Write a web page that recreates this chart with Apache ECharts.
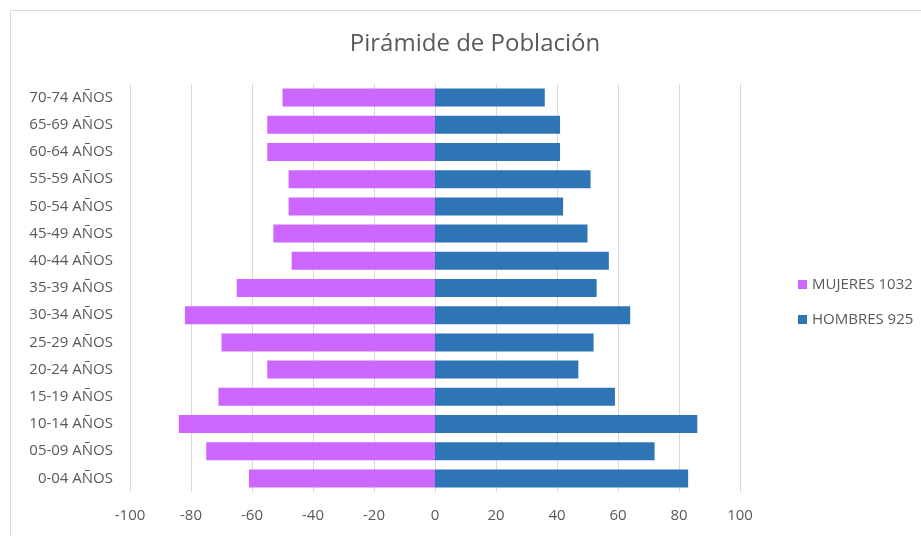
<!DOCTYPE html>
<html><head><meta charset="utf-8">
<script src="https://cdn.jsdelivr.net/npm/echarts@6/dist/echarts.min.js"></script>
<style>html,body{margin:0;padding:0;background:#fff}#c{width:921px;height:536px}</style>
</head><body><div id="c"></div>
<script>
const categories = ['0-04 AÑOS','05-09 AÑOS','10-14 AÑOS','15-19 AÑOS','20-24 AÑOS','25-29 AÑOS','30-34 AÑOS','35-39 AÑOS','40-44 AÑOS','45-49 AÑOS','50-54 AÑOS','55-59 AÑOS','60-64 AÑOS','65-69 AÑOS','70-74 AÑOS'];
const mujeres = [-61,-75,-84,-71,-55,-70,-82,-65,-47,-53,-48,-48,-55,-55,-50];
const hombres = [83,72,86,59,47,52,64,53,57,50,42,51,41,41,36];
const seriesNames = ['MUJERES 1032','HOMBRES 925'];
const xTicks = {min:-100, max:100, interval:20};

const font = '"Open Sans", "Noto Sans", sans-serif';
const chart = echarts.init(document.getElementById('c'));
chart.setOption({
  animation:false,
  backgroundColor:'#fff',
  graphic:[{type:'rect', left:8, top:8, shape:{width:1000,height:1000}, style:{fill:'none', stroke:'#d9d9d9', lineWidth:1}, silent:true}],
  title:{text:'Pirámide de Población', left:470, textAlign:'center', top:27, textStyle:{fontFamily:font, fontSize:24, fontWeight:'normal', color:'#595959'}},
  legend:{orient:'vertical', left:793, top:272, itemGap:20, itemWidth:9, itemHeight:9, icon:'rect',
    textStyle:{fontFamily:font, fontSize:15, color:'#595959'}, data:seriesNames},
  grid:{left:130, right:181, top:84, bottom:44, containLabel:false},
  xAxis:{type:'value', min:xTicks.min, max:xTicks.max, interval:xTicks.interval,
    axisLine:{show:false}, axisTick:{show:false},
    splitLine:{lineStyle:{color:'#d9d9d9', width:1}},
    axisLabel:{fontFamily:font, fontSize:15, color:'#595959', margin:16}},
  yAxis:{type:'category', data:categories,
    axisLine:{show:true, onZero:true, lineStyle:{color:'#d9d9d9'}}, axisTick:{show:false},
    axisLabel:{fontFamily:font, fontSize:15, color:'#595959', margin:17}},
  series:[
    {name:seriesNames[0], type:'bar', stack:'t', data:mujeres, barWidth:18, itemStyle:{color:'#cc66ff'}},
    {name:seriesNames[1], type:'bar', stack:'t', data:hombres, barWidth:18, itemStyle:{color:'#2e75b6'}}
  ]
});
</script></body></html>
